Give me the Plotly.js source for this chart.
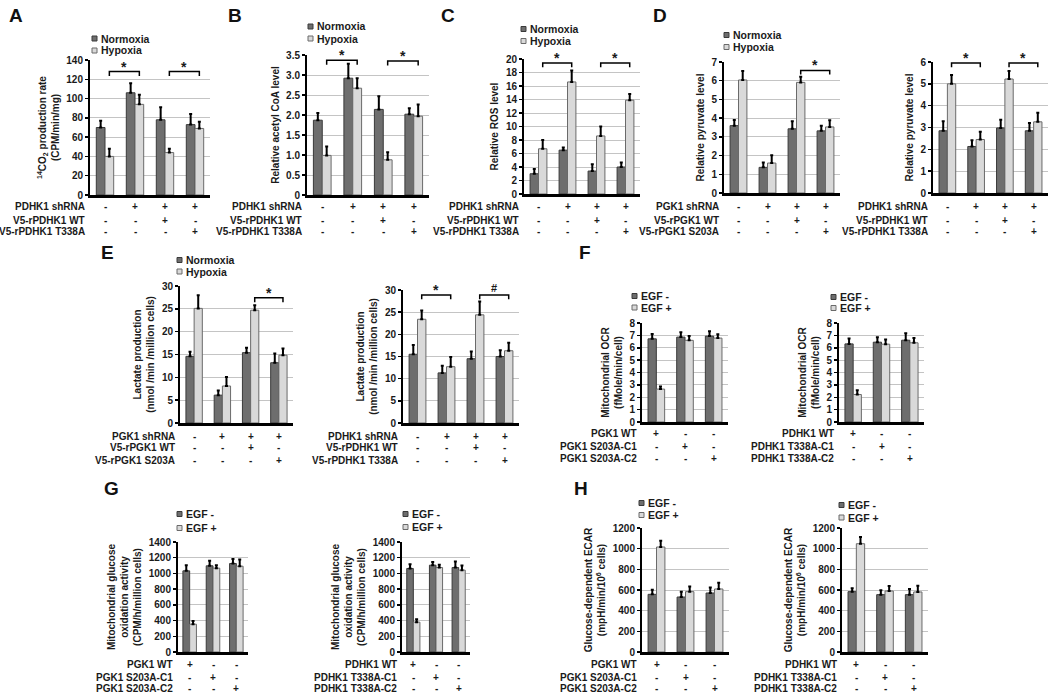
<!DOCTYPE html>
<html><head><meta charset="utf-8">
<script src="https://cdn.plot.ly/plotly-3.0.1.min.js"></script>
<style>body{margin:0;background:#fff}#chart{width:1050px;height:695px}</style>
</head><body><div id="chart"></div>
<script>
// ---------------- DATA ----------------
const hypoxiaSeries = ['Normoxia', 'Hypoxia'];
const egfSeries = ['EGF -', 'EGF +'];

const pdhkShRows = ['PDHK1 shRNA', 'V5-rPDHK1 WT', 'V5-rPDHK1 T338A'];
const pgkShRows = ['PGK1 shRNA', 'V5-rPGK1 WT', 'V5-rPGK1 S203A'];
const shSigns = [['-', '+', '+', '+'], ['-', '-', '+', '-'], ['-', '-', '-', '+']];
const pgkCloneRows = ['PGK1 WT', 'PGK1 S203A-C1', 'PGK1 S203A-C2'];
const pdhkCloneRows = ['PDHK1 WT', 'PDHK1 T338A-C1', 'PDHK1 T338A-C2'];
const cloneSigns = [['+', '-', '-'], ['-', '+', '-'], ['-', '-', '+']];

// A: 14CO2 production rate
const A_norm = [70, 106, 78, 73];
const A_normErr = [7, 10, 13, 11];
const A_hyp = [40, 94, 44, 69];
const A_hypErr = [8, 10, 4, 7];
// B: relative acetyl CoA
const B_norm = [1.87, 2.92, 2.14, 2.02];
const B_normErr = [0.18, 0.36, 0.33, 0.15];
const B_hyp = [0.99, 2.67, 0.88, 1.97];
const B_hypErr = [0.22, 0.25, 0.19, 0.29];
const B_tickText = ['0', '0.5', '1.0', '1.5', '2.0', '2.5', '3.0', '3.5'];
// C: relative ROS
const C_norm = [3.0, 6.5, 3.4, 4.0];
const C_normErr = [0.7, 0.4, 1.0, 0.65];
const C_hyp = [6.7, 16.6, 8.6, 13.9];
const C_hypErr = [1.3, 1.7, 1.4, 0.9];
// D (PGK1): relative pyruvate
const D1_norm = [3.6, 1.37, 3.43, 3.32];
const D1_normErr = [0.3, 0.26, 0.41, 0.28];
const D1_hyp = [6.04, 1.6, 5.91, 3.53];
const D1_hypErr = [0.48, 0.42, 0.3, 0.36];
// D (PDHK1): relative pyruvate
const D2_norm = [2.85, 2.13, 2.98, 2.85];
const D2_normErr = [0.44, 0.29, 0.38, 0.36];
const D2_hyp = [5.0, 2.45, 5.22, 3.26];
const D2_hypErr = [0.41, 0.36, 0.37, 0.41];
// E (PGK1): lactate
const E1_norm = [14.6, 6.1, 15.4, 13.2];
const E1_normErr = [1.0, 1.0, 1.1, 2.0];
const E1_hyp = [25.1, 8.1, 24.7, 14.85];
const E1_hypErr = [2.9, 2.0, 1.1, 1.45];
// E (PDHK1): lactate
const E2_norm = [15.5, 11.3, 14.5, 15.0];
const E2_normErr = [2.1, 1.6, 1.6, 1.4];
const E2_hyp = [23.4, 12.7, 24.4, 16.3];
const E2_hypErr = [2.0, 2.2, 3.0, 1.8];
// F: mitochondrial OCR
const F1_minus = [6.72, 6.86, 6.94];
const F1_minusErr = [0.4, 0.4, 0.4];
const F1_plus = [2.66, 6.6, 6.78];
const F1_plusErr = [0.21, 0.35, 0.32];
const F2_minus = [6.31, 6.45, 6.61];
const F2_minusErr = [0.43, 0.4, 0.57];
const F2_plus = [2.22, 6.29, 6.4];
const F2_plusErr = [0.35, 0.38, 0.38];
// G: mitochondrial glucose oxidation
const G1_minus = [1033, 1097, 1126];
const G1_minusErr = [72, 63, 59];
const G1_plus = [354, 1067, 1092];
const G1_plusErr = [42, 38, 85];
const G2_minus = [1063, 1105, 1075];
const G2_minusErr = [55, 42, 76];
const G2_plus = [380, 1075, 1042];
const G2_plusErr = [38, 34, 59];
// H: glucose-dependent ECAR
const H1_minus = [558, 532, 571];
const H1_minusErr = [45, 52, 52];
const H1_plus = [1016, 584, 610];
const H1_plusErr = [61, 51, 61];
const H2_minus = [584, 555, 555];
const H2_minusErr = [32, 42, 55];
const H2_plus = [1048, 590, 581];
const H2_plusErr = [65, 49, 61];

// significance brackets: [fromGroup, toGroup, yValue, label]
const A_sig = [[0, 1, 128, '*'], [2, 3, 128, '*']];
const B_sig = [[0, 1, 3.37, '*'], [2, 3, 3.35, '*']];
const C_sig = [[0, 1, 19.4, '*'], [2, 3, 19.4, '*']];
const D1_sig = [[2, 3, 6.55, '*']];
const D2_sig = [[0, 1, 5.95, '*'], [2, 3, 5.95, '*']];
const E1_sig = [[2, 3, 27.4, '*']];
const E2_sig = [[0, 1, 28.9, '*'], [2, 3, 28.9, '#']];

// ---------------- LAYOUT HELPERS ----------------
const W = 1050, H = 695;
const FONT = '"Liberation Sans", Arial, Helvetica, sans-serif';
const bf = (size, color) => ({family: FONT, size: size, color: color || '#1a1a1a', weight: 'bold'});
const DARK = {fill: '#6e6e6e', line: '#3a3a3a'};
const LIGHT = {fill: '#d9d9d9', line: '#6a6a6a'};
const ROW_TOP = [207, 220, 232];
const ROW_E = [436, 448, 460];
const ROW_F = [433, 446, 458];
const ROW_GH = [664, 677, 688];

const panels = [
  {box: [90, 210, 60, 195], a: A_norm, ae: A_normErr, b: A_hyp, be: A_hypErr, names: hypoxiaSeries,
   ytitle: '<sup>14</sup>CO<sub>2</sub> production rate<br>(CPM/min/mg)', range: [0, 140], dtick: 20,
   rows: pdhkShRows, signs: shSigns, rowY: ROW_TOP, legend: [92, 38.5, 12], sig: A_sig},
  {box: [307, 429, 55, 195], a: B_norm, ae: B_normErr, b: B_hyp, be: B_hypErr, names: hypoxiaSeries,
   ytitle: 'Relative acetyl CoA level', range: [0, 3.5], dtick: 0.5, ticktext: B_tickText,
   rows: pdhkShRows, signs: shSigns, rowY: ROW_TOP, legend: [308, 26.5, 12], sig: B_sig},
  {box: [524, 640, 59, 194], a: C_norm, ae: C_normErr, b: C_hyp, be: C_hypErr, names: hypoxiaSeries,
   ytitle: 'Relative ROS level', range: [0, 20], dtick: 2,
   rows: pdhkShRows, signs: shSigns, rowY: ROW_TOP, legend: [521, 29, 12], sig: C_sig},
  {box: [724, 840, 62, 193], a: D1_norm, ae: D1_normErr, b: D1_hyp, be: D1_hypErr, names: hypoxiaSeries,
   ytitle: 'Relative pyruvate level', range: [0, 7], dtick: 1,
   rows: pgkShRows, signs: shSigns, rowY: ROW_TOP, legend: [724, 35, 12], sig: D1_sig},
  {box: [933, 1048, 62, 193], a: D2_norm, ae: D2_normErr, b: D2_hyp, be: D2_hypErr, names: hypoxiaSeries,
   ytitle: 'Relative pyruvate level', range: [0, 6], dtick: 1,
   rows: pdhkShRows, signs: shSigns, rowY: ROW_TOP, legend: null, sig: D2_sig},
  {box: [180, 293, 286, 423], a: E1_norm, ae: E1_normErr, b: E1_hyp, be: E1_hypErr, names: hypoxiaSeries,
   ytitle: 'Lactate production<br>(nmol /min /million cells)', range: [0, 30], dtick: 5,
   rows: pgkShRows, signs: shSigns, rowY: ROW_E, legend: [177, 260, 11.5], sig: E1_sig},
  {box: [403, 519, 290, 423], a: E2_norm, ae: E2_normErr, b: E2_hyp, be: E2_hypErr, names: hypoxiaSeries,
   ytitle: 'Lactate production<br>(nmol /min /million cells)', range: [0, 30], dtick: 5,
   rows: pdhkShRows, signs: shSigns, rowY: ROW_E, legend: null, sig: E2_sig},
  {box: [642, 728, 323, 422], a: F1_minus, ae: F1_minusErr, b: F1_plus, be: F1_plusErr, names: egfSeries,
   ytitle: 'Mitochondrial OCR<br>(fMole/min/cell)', range: [0, 8], dtick: 1,
   rows: pgkCloneRows, signs: cloneSigns, rowY: ROW_F, legend: [632, 296, 11.5], sig: []},
  {box: [839, 924, 323, 422], a: F2_minus, ae: F2_minusErr, b: F2_plus, be: F2_plusErr, names: egfSeries,
   ytitle: 'Mitochondrial OCR<br>(fMole/min/cell)', range: [0, 8], dtick: 1,
   rows: pdhkCloneRows, signs: cloneSigns, rowY: ROW_F, legend: [831, 297, 11], sig: []},
  {box: [178, 248, 542, 652], a: G1_minus, ae: G1_minusErr, b: G1_plus, be: G1_plusErr, names: egfSeries,
   ytitle: 'Mitochondrial glucose<br>oxidation activity<br>(CPM/h/million cells)', range: [0, 1400], dtick: 200,
   rows: pgkCloneRows, signs: cloneSigns, rowY: ROW_GH, legend: [177, 514, 14], sig: []},
  {box: [402, 470, 542, 652], a: G2_minus, ae: G2_minusErr, b: G2_plus, be: G2_plusErr, names: egfSeries,
   ytitle: 'Mitochondrial glucose<br>oxidation activity<br>(CPM/h/million cells)', range: [0, 1400], dtick: 200,
   rows: pdhkCloneRows, signs: cloneSigns, rowY: ROW_GH, legend: [403, 514, 13], sig: []},
  {box: [642, 729, 528, 652], a: H1_minus, ae: H1_minusErr, b: H1_plus, be: H1_plusErr, names: egfSeries,
   ytitle: 'Glucose-dependent ECAR<br>(mpH/min/10<sup>6</sup> cells)', range: [0, 1200], dtick: 200,
   rows: pgkCloneRows, signs: cloneSigns, rowY: ROW_GH, legend: [639, 503, 12], sig: []},
  {box: [842, 928, 528, 652], a: H2_minus, ae: H2_minusErr, b: H2_plus, be: H2_plusErr, names: egfSeries,
   ytitle: 'Glucose-dependent ECAR<br>(mpH/min/10<sup>6</sup> cells)', range: [0, 1200], dtick: 200,
   rows: pdhkCloneRows, signs: cloneSigns, rowY: ROW_GH, legend: [839, 505, 12.5], sig: []}
];

const letters = [
  ['A', 7, 3], ['B', 226, 3], ['C', 439, 3], ['D', 651, 3],
  ['E', 99, 240], ['F', 577, 240], ['G', 102, 476], ['H', 572, 476]
];

const data = [];
const annotations = [];
const shapes = [];
const layout = {
  width: W, height: H, margin: {l: 0, r: 0, t: 0, b: 0},
  paper_bgcolor: '#ffffff', plot_bgcolor: '#ffffff',
  barmode: 'group', bargap: 0.42, bargroupgap: 0,
  showlegend: false, font: bf(10)
};

const px = v => v / W;
const py = v => 1 - v / H;
const H_OFF = 0.145;

panels.forEach((p, i) => {
  const n = i === 0 ? '' : String(i + 1);
  const xa = 'x' + n, ya = 'y' + n;
  const [x0, x1, yt, yb] = p.box;
  const groups = p.signs[0].map((_, j) => j);
  const zeros = p.a.map(() => 0);
  [[p.a, p.ae, DARK, p.names[0]], [p.b, p.be, LIGHT, p.names[1]]].forEach(([vals, errs, st, nm]) => {
    data.push({
      type: 'bar', x: groups, y: vals, name: nm, xaxis: xa, yaxis: ya,
      marker: {color: st.fill, line: {color: st.line, width: 1}},
      error_y: {type: 'data', symmetric: false, array: errs, arrayminus: zeros,
                color: '#000', thickness: 2, width: 1.5},
      hoverinfo: 'y'
    });
  });
  const yaxis = {
    domain: [py(yb), py(yt)], anchor: xa, range: p.range, dtick: p.dtick, tick0: 0,
    showline: true, linecolor: '#000', linewidth: 2,
    ticks: 'outside', ticklen: 3, tickwidth: 1.5, tickcolor: '#000',
    showgrid: true, gridcolor: '#c4c4c4', gridwidth: 1, zeroline: false,
    tickfont: bf(10), fixedrange: true,
    title: {text: p.ytitle, font: bf(10), standoff: 5}
  };
  if (p.ticktext) {
    yaxis.tickmode = 'array';
    yaxis.tickvals = p.ticktext.map(t => parseFloat(t));
    yaxis.ticktext = p.ticktext;
  }
  layout['yaxis' + n] = yaxis;
  layout['xaxis' + n] = {
    domain: [px(x0), px(x1)], anchor: ya, range: [-0.5, groups.length - 0.5],
    showline: true, linecolor: '#000', linewidth: 2.5, showticklabels: false,
    ticks: '', showgrid: false, zeroline: false, fixedrange: true
  };
  // condition rows
  p.rows.forEach((lab, r) => {
    annotations.push({xref: 'paper', yref: 'paper', x: px(x0 - 3), y: py(p.rowY[r]),
      xanchor: 'right', yanchor: 'middle', text: lab, showarrow: false, font: bf(10)});
    p.signs[r].forEach((s, j) => {
      annotations.push({xref: xa, yref: 'paper', x: groups[j], y: py(p.rowY[r]),
        xanchor: 'center', yanchor: 'middle', text: s, showarrow: false, font: bf(10)});
    });
  });
  // legend (swatch + label)
  if (p.legend) {
    const [lx, ly, gap] = p.legend;
    [[DARK, p.names[0]], [LIGHT, p.names[1]]].forEach(([st, nm], k) => {
      const cy = ly + k * gap;
      shapes.push({type: 'rect', xref: 'paper', yref: 'paper',
        x0: px(lx), x1: px(lx + 5), y0: py(cy + 2.5), y1: py(cy - 2.5),
        fillcolor: st.fill, line: {color: st.line, width: 1}});
      annotations.push({xref: 'paper', yref: 'paper', x: px(lx + 7), y: py(cy),
        xanchor: 'left', yanchor: 'middle', text: nm, showarrow: false, font: bf(10.5)});
    });
  }
  // significance brackets
  const span = p.range[1] - p.range[0];
  p.sig.forEach(([ga, gb, yv, lab]) => {
    const xl = ga + H_OFF, xr = gb + H_OFF, d = span * 0.032;
    shapes.push({type: 'path', xref: xa, yref: ya,
      path: `M ${xl},${yv - d} L ${xl},${yv} L ${xr},${yv} L ${xr},${yv - d}`,
      line: {color: '#000', width: 1.5}});
    annotations.push({xref: xa, yref: ya, x: (xl + xr) / 2, y: yv, xanchor: 'center', yanchor: 'bottom',
      text: lab, showarrow: false, font: bf(lab === '#' ? 11 : 14), yshift: lab === '#' ? -1 : -5});
  });
});

letters.forEach(([t, x, y]) => {
  annotations.push({xref: 'paper', yref: 'paper', x: px(x), y: py(y), xanchor: 'left', yanchor: 'top',
    text: t, showarrow: false, font: bf(19, '#111')});
});

layout.annotations = annotations;
layout.shapes = shapes;

Plotly.newPlot('chart', data, layout, {displayModeBar: false, staticPlot: true});
</script>
</body></html>
